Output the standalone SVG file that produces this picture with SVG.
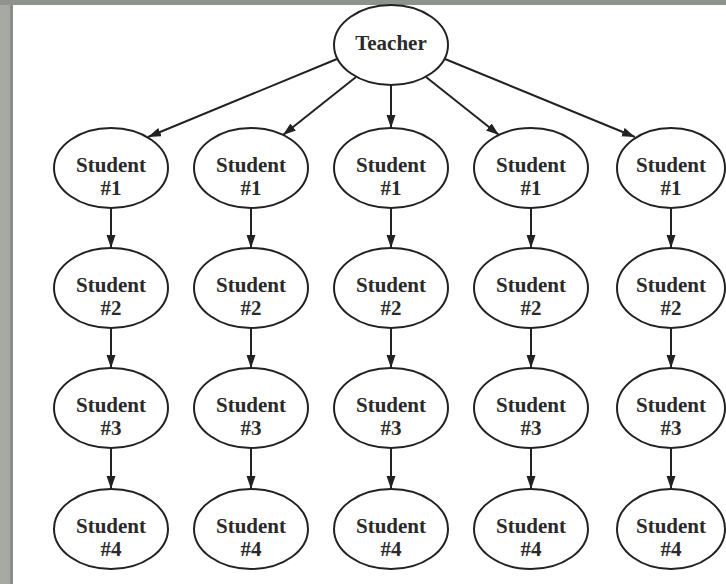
<svg xmlns="http://www.w3.org/2000/svg" width="726" height="584" viewBox="0 0 726 584">
<style>
.n ellipse{fill:#fff;stroke:#222;stroke-width:2}
.n text{font-family:"Liberation Serif","Times New Roman",serif;font-weight:bold;font-size:21px;fill:#2a2a2a;text-anchor:middle}
.c line{stroke:#222;stroke-width:2;marker-end:url(#ah)}
</style>
<defs>
<marker id="ah" markerUnits="userSpaceOnUse" markerWidth="14" markerHeight="10" refX="13" refY="4.5" orient="auto">
<path d="M0,0 L13,4.5 L0,9 z" fill="#222"/>
</marker>
</defs>
<rect x="0" y="0" width="726" height="584" fill="#a6a9a4"/>
<rect x="0" y="0" width="726" height="5" fill="#8e938e"/>
<rect x="10" y="5" width="3" height="579" fill="#8a8d89"/>
<rect x="13" y="5" width="713" height="579" fill="#fff"/>
<g class="c" id="connectors">
<line x1="337" y1="59" x2="148" y2="137"/>
<line x1="356" y1="77" x2="283" y2="135"/>
<line x1="391" y1="85" x2="391" y2="128"/>
<line x1="426" y1="77" x2="499" y2="135"/>
<line x1="445" y1="59" x2="635" y2="137"/>
<line x1="111" y1="208" x2="111" y2="248"/>
<line x1="111" y1="328" x2="111" y2="368"/>
<line x1="111" y1="448" x2="111" y2="489"/>
<line x1="251" y1="208" x2="251" y2="248"/>
<line x1="251" y1="328" x2="251" y2="368"/>
<line x1="251" y1="448" x2="251" y2="489"/>
<line x1="391" y1="208" x2="391" y2="248"/>
<line x1="391" y1="328" x2="391" y2="368"/>
<line x1="391" y1="448" x2="391" y2="489"/>
<line x1="531" y1="208" x2="531" y2="248"/>
<line x1="531" y1="328" x2="531" y2="368"/>
<line x1="531" y1="448" x2="531" y2="489"/>
<line x1="671" y1="208" x2="671" y2="248"/>
<line x1="671" y1="328" x2="671" y2="368"/>
<line x1="671" y1="448" x2="671" y2="489"/>
</g>
<g class="n" id="teacher"><ellipse cx="391" cy="45" rx="57" ry="40"/><text x="391" y="50">Teacher</text></g>
<g class="n" id="c1s1"><ellipse cx="111" cy="168" rx="57" ry="40"/><text x="111" y="172">Student</text><text x="111" y="195">#1</text></g>
<g class="n" id="c1s2"><ellipse cx="111" cy="288" rx="57" ry="40"/><text x="111" y="292">Student</text><text x="111" y="315">#2</text></g>
<g class="n" id="c1s3"><ellipse cx="111" cy="408" rx="57" ry="40"/><text x="111" y="412">Student</text><text x="111" y="435">#3</text></g>
<g class="n" id="c1s4"><ellipse cx="111" cy="529" rx="57" ry="40"/><text x="111" y="533">Student</text><text x="111" y="556">#4</text></g>
<g class="n" id="c2s1"><ellipse cx="251" cy="168" rx="57" ry="40"/><text x="251" y="172">Student</text><text x="251" y="195">#1</text></g>
<g class="n" id="c2s2"><ellipse cx="251" cy="288" rx="57" ry="40"/><text x="251" y="292">Student</text><text x="251" y="315">#2</text></g>
<g class="n" id="c2s3"><ellipse cx="251" cy="408" rx="57" ry="40"/><text x="251" y="412">Student</text><text x="251" y="435">#3</text></g>
<g class="n" id="c2s4"><ellipse cx="251" cy="529" rx="57" ry="40"/><text x="251" y="533">Student</text><text x="251" y="556">#4</text></g>
<g class="n" id="c3s1"><ellipse cx="391" cy="168" rx="57" ry="40"/><text x="391" y="172">Student</text><text x="391" y="195">#1</text></g>
<g class="n" id="c3s2"><ellipse cx="391" cy="288" rx="57" ry="40"/><text x="391" y="292">Student</text><text x="391" y="315">#2</text></g>
<g class="n" id="c3s3"><ellipse cx="391" cy="408" rx="57" ry="40"/><text x="391" y="412">Student</text><text x="391" y="435">#3</text></g>
<g class="n" id="c3s4"><ellipse cx="391" cy="529" rx="57" ry="40"/><text x="391" y="533">Student</text><text x="391" y="556">#4</text></g>
<g class="n" id="c4s1"><ellipse cx="531" cy="168" rx="57" ry="40"/><text x="531" y="172">Student</text><text x="531" y="195">#1</text></g>
<g class="n" id="c4s2"><ellipse cx="531" cy="288" rx="57" ry="40"/><text x="531" y="292">Student</text><text x="531" y="315">#2</text></g>
<g class="n" id="c4s3"><ellipse cx="531" cy="408" rx="57" ry="40"/><text x="531" y="412">Student</text><text x="531" y="435">#3</text></g>
<g class="n" id="c4s4"><ellipse cx="531" cy="529" rx="57" ry="40"/><text x="531" y="533">Student</text><text x="531" y="556">#4</text></g>
<g class="n" id="c5s1"><ellipse cx="671" cy="168" rx="54" ry="40"/><text x="671" y="172">Student</text><text x="671" y="195">#1</text></g>
<g class="n" id="c5s2"><ellipse cx="671" cy="288" rx="54" ry="40"/><text x="671" y="292">Student</text><text x="671" y="315">#2</text></g>
<g class="n" id="c5s3"><ellipse cx="671" cy="408" rx="54" ry="40"/><text x="671" y="412">Student</text><text x="671" y="435">#3</text></g>
<g class="n" id="c5s4"><ellipse cx="671" cy="529" rx="54" ry="40"/><text x="671" y="533">Student</text><text x="671" y="556">#4</text></g>
</svg>
